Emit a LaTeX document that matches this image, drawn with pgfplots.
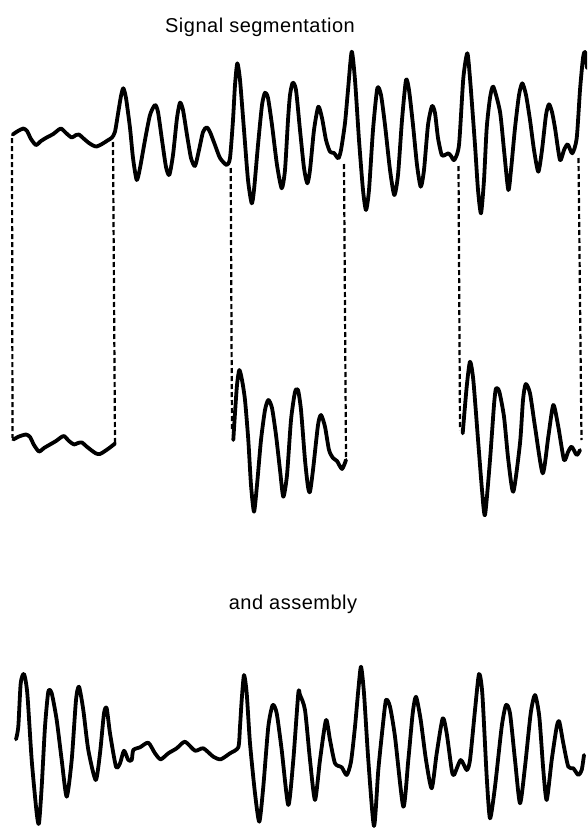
\documentclass[border=0pt]{standalone}
\usepackage{pgfplots}
\pgfplotsset{compat=1.18}
\usepackage{fontspec}
\setmainfont{Liberation Sans}[LetterSpace=2.5]
\begin{document}
\begin{tikzpicture}
\begin{axis}[
  x=1pt, y=1pt, y dir=reverse,
  xmin=0, xmax=587, ymin=0, ymax=830,
  hide axis, clip=true,
  every axis plot/.append style={line join=round, line cap=round},
]
\path (axis cs:0,0) rectangle (axis cs:587,830);
% top waveform
\addplot[black, line width=3.8pt, smooth, tension=0.4] coordinates {
(12.7,134.5)(18,131)(23.3,128.5)(27,131)(31,139)(36,145)(41,141)(46.7,137.5)(53.3,134)(57,131)(61,128.5)(66,133)(71.7,137.5)(76,135)(79,134.5)(83,138)(88.3,142.5)(93,145.5)(96.7,146.5)(102,144)(108.3,140)(112,137.5)
(115,131.7)(118.3,112)(121,96)(123.3,88.3)(126,98)(130,128)(133,158)(136.7,180)(140,168)(145,140)(150,115)(155,105)(158,112)(162,140)(166,167)(169.3,175)(173,155)(177,118)(180,102.7)(183,110)(187,135)(191,158)(195,166)(199,150)(203,132)(206.7,127.3)(210,132)(215,145)(220,158)(226.7,165)(230,158)(233,120)(235,85)(237.3,63.3)(240,80)(244,130)(248,180)(251.7,203.3)(254,190)(258,145)(262,105)(265,92.7)(268,98)(272,125)(277,165)(281.7,188.3)(285,170)(288,120)(290,95)(292.7,82.7)(296,90)(300,130)(304,168)(307.3,183.3)(310,170)(314,130)(318.3,106.7)(322,118)(326,140)(330,151.7)(334,153)(338.3,158.3)(341,150)(345,123)(348,90)(351.7,51.7)(355,80)(359,140)(363,190)(366,210)(369,190)(373,130)(377.3,88.3)(381,95)(385,125)(390,170)(394.3,195)(398,175)(402,120)(406,80)(409,90)(413,125)(417,165)(420.7,186.7)(424,170)(428,125)(432,106)(435,113)(438,138)(441.7,155)(445,155)(448.3,153.3)(451,156)(454.3,160)(459,145)(463.3,78.3)(467.3,53.3)(470,78.3)(475,145)(478,190)(481,213.3)(484,180)(486.7,128)(490,98)(493.3,86.7)(500,111.7)(504,150)(508.3,190)(511,170)(515,128)(519,95)(522.3,83.3)(526,95)(530,120)(534,150)(538.3,171.7)(542,150)(546,115)(549,104.3)(552,112)(555,128)(560,160)(564,150)(567.7,144.3)(572.3,153.3)(576.7,138.3)(580,90)(583,58)(585,52)(587,68)
};
% lower copies
\addplot[black, line width=3.8pt, smooth, tension=0.4] coordinates {
(13.3,439.5)(19,436.5)(26,434.5)(30,437)(34,445)(39,451.5)(44,448)(50,444.5)(56,441)(60,438)(64,436)(69,441)(74,444.5)(78,443)(82,442.5)(86,446)(91,450)(96,453.5)(100,454)(105,451)(110,447.5)(115,443.5)
};
\addplot[black, line width=3.8pt, smooth, tension=0.4] coordinates {
(233.3,440)(235,413)(237,385)(239.3,370)(242,380)(245,400)(248.3,440)(251,485)(254,511.7)(257,485)(261,440)(265,410)(268.3,400)(272,408)(276,435)(280,470)(283.3,496.7)(287,475)(291,420)(295,392)(298,390)(301,410)(305,460)(308,487)(310,491.7)(313,470)(318,425)(321,415)(325,426.7)(329,450)(333,458)(337,461)(342,469)(346,460)
};
\addplot[black, line width=3.8pt, smooth, tension=0.4] coordinates {
(462.7,433.3)(466.7,386.7)(470,361.7)(473.3,380)(478.3,443.3)(482,490)(485,515)(490,460)(494,405)(496,388.3)(499.3,391.7)(504,416.7)(508.3,460)(513.3,491.7)(520,443.3)(523,400)(525.7,384)(530,393.3)(535,426.7)(542.7,473.3)(548.3,436.7)(553.3,405)(558.3,426.7)(564,460)(568,452)(571.7,446.7)(576.7,455)(580,450)
};
% dashed connectors
\addplot[black, line width=2.2pt, line cap=butt, dash pattern=on 5pt off 3pt] coordinates {(12,138)(12.5,438)};
\addplot[black, line width=2.2pt, line cap=butt, dash pattern=on 5pt off 3pt] coordinates {(113,142)(115,442)};
\addplot[black, line width=2.2pt, line cap=butt, dash pattern=on 5pt off 3pt] coordinates {(230.7,168)(232,432)};
\addplot[black, line width=2.2pt, line cap=butt, dash pattern=on 5pt off 3pt] coordinates {(344,164)(346,458)};
\addplot[black, line width=2.2pt, line cap=butt, dash pattern=on 5pt off 3pt] coordinates {(458.5,166)(460,430)};
\addplot[black, line width=2.2pt, line cap=butt, dash pattern=on 5pt off 3pt] coordinates {(578.5,158)(581.5,440)};
% assembled waveform
\addplot[black, line width=3.8pt, smooth, tension=0.4] coordinates {
(16,739.3)(18.3,726.7)(20.7,683.3)(24,674)(27.3,693.3)(31.7,760)(36.7,813.3)(39,823.3)(41.7,786.7)(45,726.7)(48.3,691.7)(51.7,693.3)(56.7,720)(61.7,760)(66.7,796.7)(71.7,760)(76,700)(79,686.7)(83.3,710)(88.3,750)(95.7,780)(100,753.3)(104,713.3)(106.7,708.3)(110,733.3)(116,766.7)(120,763.3)(124,750.7)(128.3,760)(131.7,760)(133.3,750)(140,747.3)(148.3,742.7)(155,753.3)(160.7,759.3)(168.3,753.3)(176.7,748.3)(185,741.7)(195,750.7)(203.3,748.3)(213.3,756.7)(220.7,759.3)(230,753.3)(238.3,747.3)(240,726.7)(241.7,700)(244,675)(246.7,693.3)(250,743.3)(255,793.3)(259.3,821.7)(263.3,786.7)(268.3,726.7)(272.7,705)(276.7,713.3)(281.7,750)(288.3,805)(293.3,760)(298.3,693.3)
(300,695)(305,710)(310,760)(315,800)(320,760)(326,720)(330,740)(335,763.3)(341.7,767.3)(346.7,775)(351,761.7)(355,726.7)(358.3,690)(361,666.7)(364,693.3)(368.3,760)(374,826)(378.3,770)(382.7,726.7)(386,700)(390,706.7)(395,736.7)(403.3,806.7)(408.3,760)(412.7,713.3)(416,696.7)(420.7,720)(426,760)(431.7,788.3)(436.7,753.3)(442.7,718.3)(446.7,733.3)(451.7,770)(454,775)(460.7,760)(466.7,770)(470,760)(475,710)(479,674)(482.3,693.3)(486.7,776.7)(490,818.3)(495,786.7)(501.7,726.7)(506,705)(510,713.3)(515,760)(520,803.3)(525,766.7)(530.7,713.3)(535,695)(539.3,716.7)(543.3,770)(546.7,800)(551.7,760)(556.7,726.7)(559.3,721.7)(563.3,743.3)(568.3,766.7)(573.3,768.3)(578.3,775)(581.7,770)(584,755)
};
\node[anchor=base, font=\fontsize{20}{22}\selectfont] at (axis cs:260,32) {Signal segmentation};
\node[anchor=base, font=\fontsize{20}{22}\selectfont] at (axis cs:293,609) {and assembly};
\end{axis}
\end{tikzpicture}
\end{document}
